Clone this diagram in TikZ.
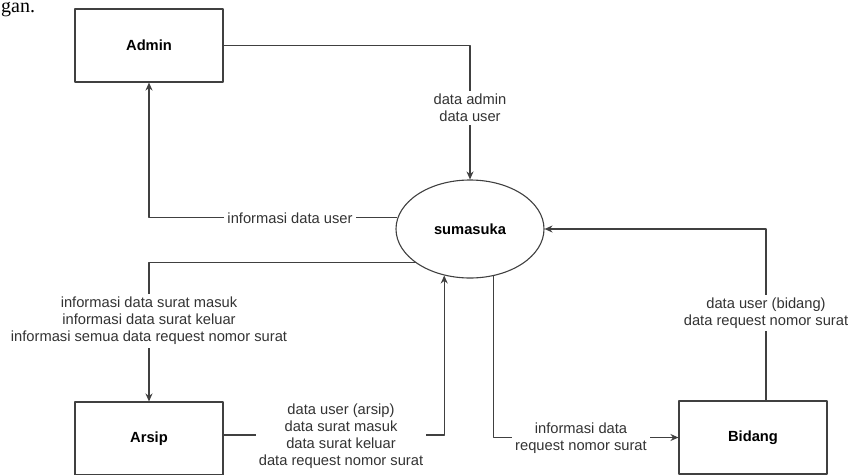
\documentclass[tikz,border=0pt]{standalone}
\usepackage{fontspec}
\setmainfont{Liberation Sans}
\newfontfamily\serifpart{Liberation Serif}
\usetikzlibrary{arrows.meta,shapes.geometric}
\newcommand{\hurufdfd}{\fontsize{14.7}{17}\selectfont}
\tikzset{
  entitas/.style={draw=black!75,line width=1.1pt,minimum width=148pt,minimum height=73pt,inner sep=0pt,font=\hurufdfd\bfseries},
  proses/.style={ellipse,draw=black!75,line width=1.1pt,minimum width=148pt,minimum height=98pt,inner sep=0pt,font=\hurufdfd\bfseries},
  alur/.style={->,draw=black!75,line width=1.1pt},
  ket/.style={fill=white,align=center,inner sep=3pt,text=black!80}
}
\begin{document}
\begin{tikzpicture}[x=1pt,y=-1pt,>={Stealth[length=8pt,width=7pt]},font=\hurufdfd,line join=round]
	\useasboundingbox (0,0) rectangle (848,474);
	\clip (0,0) rectangle (848,474);
	\node[anchor=base west,inner sep=0pt,font=\serifpart\fontsize{20}{20}\selectfont] (potong) at (1,12) {gan.};
	\node[entitas] (admin) at (149,45.5) {Admin};
	\node[entitas] (arsip) at (149,438.5) {Arsip};
	\node[entitas] (bidang) at (753,437.5) {Bidang};
	\node[proses] (proses) at (470,229) {sumasuka};
	\draw[alur] (admin.east) -| (proses.north);
	\draw[alur] (proses.171) -| (admin.south);
	\draw[alur] (proses.212.5) -| (arsip.north);
	\draw[alur] ([yshift=3.5pt]arsip.east) -| (proses.241.5);
	\draw[alur] (proses.297.4) |- (bidang.west);
	\draw[alur] ([xshift=13pt]bidang.north) |- (proses.east);
	\node[ket] (k1) at (470,108) {data admin\\data user};
	\node[ket] (k2) at (290,218) {informasi data user};
	\node[ket] (k3) at (149,321) {informasi data surat masuk\\informasi data surat keluar\\informasi semua data request nomor surat};
	\node[ket] (k4) at (341,436) {data user (arsip)\\data surat masuk\\data surat keluar\\data request nomor surat};
	\node[ket] (k5) at (581,438) {informasi data\\request nomor surat};
	\node[ket] (k6) at (766,313) {data user (bidang)\\data request nomor surat};
\end{tikzpicture}
\end{document}
